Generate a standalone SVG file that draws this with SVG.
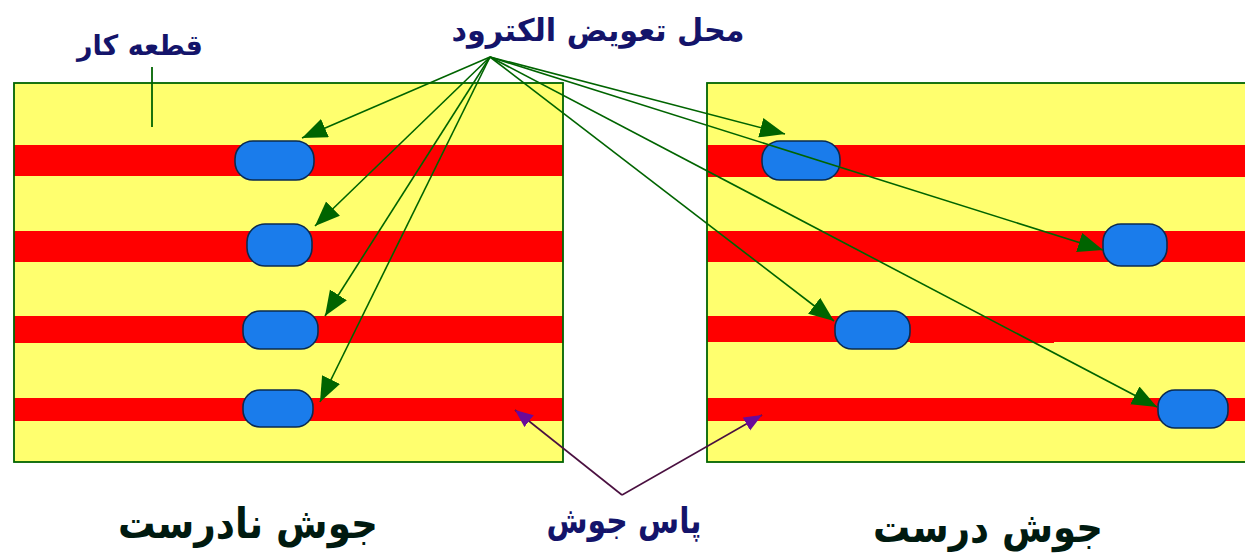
<svg xmlns="http://www.w3.org/2000/svg" width="1245" height="558" viewBox="0 0 1245 558">
<style>
.band{fill:#FF0000}
.pill{fill:#1A7CEB;stroke:#0A2A50;stroke-width:1.6}
.garrow{fill:none;stroke:#006400;stroke-width:1.6;marker-end:url(#gh)}
.parrow{fill:none;stroke:#4A1040;stroke-width:1.6}
.lbl{font-family:"DejaVu Sans",sans-serif;font-weight:bold;text-anchor:middle}
.navy{fill:#14146A}
.dark{fill:#001A10}
</style>
<defs>
<marker id="gh" markerUnits="userSpaceOnUse" markerWidth="28" markerHeight="22" refX="25" refY="10" orient="auto">
<path d="M0,0 L25,10 L0,20 Z" fill="#006400"/>
</marker>
<marker id="ph" markerUnits="userSpaceOnUse" markerWidth="20" markerHeight="16" refX="18" refY="7.5" orient="auto">
<path d="M0,0 L18,7.5 L0,15 Z" fill="#6A0A9A"/>
</marker>
</defs>
<rect width="1245" height="558" fill="#FFFFFF"/>
<g id="left-panel">
<rect x="14" y="83" width="549" height="379" fill="#FFFF6E"/>
<rect class="band" x="14" y="145" width="549" height="31"/>
<rect class="band" x="14" y="231" width="549" height="31"/>
<rect class="band" x="14" y="316" width="549" height="27"/>
<rect class="band" x="14" y="398" width="549" height="23"/>
<rect x="14" y="83" width="549" height="379" fill="none" stroke="#006400" stroke-width="1.8"/>
</g>
<g id="right-panel">
<rect x="707" y="83" width="545" height="379" fill="#FFFF6E"/>
<rect class="band" x="707" y="145" width="545" height="32"/>
<rect class="band" x="707" y="231" width="545" height="31"/>
<rect class="band" x="707" y="316" width="545" height="26"/>
<rect class="band" x="910" y="340" width="144" height="3"/>
<rect class="band" x="707" y="398" width="545" height="23"/>
<rect x="707" y="83" width="545" height="379" fill="none" stroke="#006400" stroke-width="1.8"/>
</g>
<g id="pills-left">
<rect class="pill" x="235" y="141" width="79" height="39" rx="18"/>
<rect class="pill" x="247" y="224" width="65" height="42" rx="18"/>
<rect class="pill" x="243" y="311" width="75" height="38" rx="17"/>
<rect class="pill" x="243" y="390" width="70" height="37" rx="17"/>
</g>
<g id="pills-right">
<rect class="pill" x="762" y="141" width="78" height="39" rx="18"/>
<rect class="pill" x="1103" y="224" width="64" height="42" rx="18"/>
<rect class="pill" x="835" y="311" width="75" height="38" rx="17"/>
<rect class="pill" x="1158" y="390" width="70" height="38" rx="17"/>
</g>
<g id="connectors">
<line class="garrow" x1="490" y1="57" x2="302" y2="138"/>
<line class="garrow" x1="490" y1="57" x2="315" y2="226"/>
<line class="garrow" x1="490" y1="57" x2="325" y2="316"/>
<line class="garrow" x1="490" y1="57" x2="320" y2="402"/>
<line class="garrow" x1="490" y1="57" x2="785" y2="134"/>
<line class="garrow" x1="490" y1="57" x2="1103" y2="250"/>
<line class="garrow" x1="490" y1="57" x2="834" y2="321"/>
<line class="garrow" x1="490" y1="57" x2="1157" y2="407"/>
<line x1="152" y1="67" x2="152" y2="127" stroke="#006400" stroke-width="1.8"/>
<line class="parrow" x1="622" y1="495" x2="515" y2="410" marker-end="url(#ph)"/>
<line class="parrow" x1="622" y1="495" x2="762" y2="415" marker-end="url(#ph)"/>
</g>
<g id="labels">
<text class="lbl navy" x="598" y="41" font-size="31" textLength="293" lengthAdjust="spacingAndGlyphs">محل تعویض الکترود</text>
<text class="lbl navy" x="140" y="55" font-size="28" textLength="126" lengthAdjust="spacingAndGlyphs">قطعه کار</text>
<text class="lbl dark" x="248" y="538" font-size="42" textLength="260" lengthAdjust="spacingAndGlyphs">جوش نادرست</text>
<text class="lbl navy" x="624" y="533" font-size="36" textLength="155" lengthAdjust="spacingAndGlyphs">پاس جوش</text>
<text class="lbl dark" x="988" y="542" font-size="42" textLength="230" lengthAdjust="spacingAndGlyphs">جوش درست</text>
</g>
</svg>
